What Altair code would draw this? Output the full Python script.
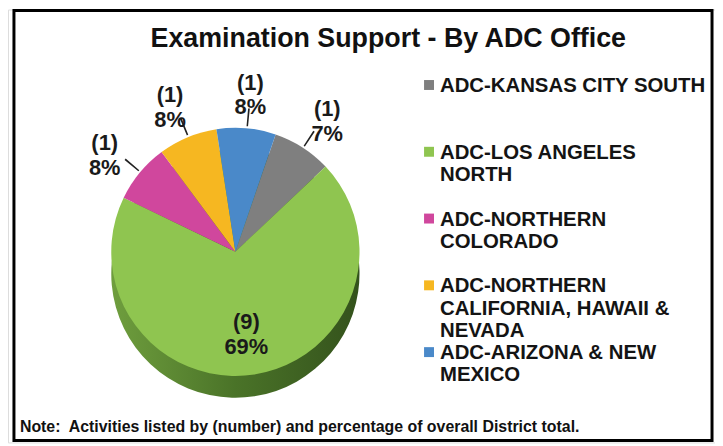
import math
import altair as alt
import pandas as pd

# ---- data ----
offices = [
    "ADC-KANSAS CITY SOUTH",
    "ADC-LOS ANGELES NORTH",
    "ADC-NORTHERN COLORADO",
    "ADC-NORTHERN CALIFORNIA, HAWAII & NEVADA",
    "ADC-ARIZONA & NEW MEXICO",
]
legend_text = [
    "ADC-KANSAS CITY SOUTH",
    "ADC-LOS ANGELES\nNORTH",
    "ADC-NORTHERN\nCOLORADO",
    "ADC-NORTHERN\nCALIFORNIA, HAWAII &\nNEVADA",
    "ADC-ARIZONA & NEW\nMEXICO",
]
counts = [1, 9, 1, 1, 1]
percent_labels = ["7%", "69%", "8%", "8%", "8%"]
colors = ["#7F7F7F", "#8FC550", "#D0479D", "#F6B721", "#4A89C9"]

title_text = "Examination Support - By ADC Office"
note_text = "Note:\u00a0 Activities listed by (number) and percentage of overall District total."

df = pd.DataFrame({
    "office": offices,
    "legend": legend_text,
    "count": counts,
    "pct": percent_labels,
    "order": list(range(len(offices))),
})
df["label"] = ["(" + str(c) + ")\n" + p for c, p in zip(counts, percent_labels)]

total = sum(counts)
start = 0.33
theta_scale = alt.Scale(domain=[0, total], range=[start, start + 2 * math.pi])
color_scale = alt.Scale(domain=offices, range=colors)

W, H = 712, 436
CX, CY, R, DEPTH = 229, 244, 125, 22
FONT = "Liberation Sans"

base = alt.Chart(df)

# side (depth) of the pie
side = base.mark_arc(
    radius=R,
    fill=alt.LinearGradient(
        gradient="linear",
        stops=[alt.GradientStop(color="#6F9E3E", offset=0),
               alt.GradientStop(color="#4A7328", offset=0.5),
               alt.GradientStop(color="#34521C", offset=1)],
        x1=0, x2=1, y1=0, y2=0,
    ),
).encode(
    theta=alt.Theta("count:Q", stack=True, scale=theta_scale),
    order=alt.Order("order:Q"),
    x=alt.value(CX), y=alt.value(CY + DEPTH),
)

# top face
pie = base.mark_arc(radius=R).encode(
    theta=alt.Theta("count:Q", stack=True, scale=theta_scale),
    order=alt.Order("order:Q"),
    color=alt.Color("office:N", scale=color_scale, legend=None),
    x=alt.value(CX), y=alt.value(CY),
)

mids = base.transform_window(
    cum="sum(count)", sort=[alt.SortField("order")]
).transform_calculate(
    mid="datum.cum - datum.count / 2",
    mid2="datum.cum - datum.count / 2 + 0.025",
)

leaders = mids.transform_filter("datum.count < 5").mark_arc(color="#222").encode(
    theta=alt.Theta("mid:Q", stack=False, scale=theta_scale),
    theta2="mid2:Q",
    radius=alt.value(145), radius2=alt.value(R + 2),
    x=alt.value(CX), y=alt.value(CY),
)

small_labels = mids.transform_filter("datum.count < 5").mark_text(
    font=FONT, fontSize=22, fontWeight="bold", lineBreak="\n", lineHeight=25,
    color="#1a1a1a", baseline="middle", align="center",
).encode(
    theta=alt.Theta("mid:Q", stack=False, scale=theta_scale),
    radius=alt.value(171),
    text="label:N",
    x=alt.value(CX), y=alt.value(CY),
)

big_labels = mids.transform_filter("datum.count >= 5").mark_text(
    font=FONT, fontSize=22, fontWeight="bold", lineBreak="\n", lineHeight=25,
    color="#1a1a1a", baseline="middle", align="center",
).encode(
    theta=alt.Theta("mid:Q", stack=False, scale=theta_scale),
    radius=alt.value(72),
    text="label:N",
    x=alt.value(CX), y=alt.value(CY),
)

legend_y = alt.Y("office:N", sort=offices, axis=None,
                 scale=alt.Scale(range=[76, 345], padding=0))

legend_sym = base.mark_square(size=100, opacity=1).encode(
    x=alt.value(424),
    y=legend_y,
    color=alt.Color("office:N", scale=color_scale, legend=None),
)

legend_lbl = base.mark_text(
    font=FONT, fontSize=20.5, fontWeight="bold", lineBreak="\n", lineHeight=22.5,
    color="#141414", align="left", baseline="alphabetic", dy=7,
).encode(
    x=alt.value(435),
    y=legend_y,
    text="legend:N",
)

frame = alt.Chart(pd.DataFrame({"f": [0]})).mark_rect(
    filled=False, stroke="black", strokeWidth=3
).encode(
    x=alt.value(6), x2=alt.value(709), y=alt.value(1), y2=alt.value(434),
)

note = alt.Chart(pd.DataFrame({"t": [note_text]})).mark_text(
    font=FONT, fontSize=16, fontWeight="bold", align="left", baseline="alphabetic",
    color="#111",
).encode(
    x=alt.value(12), y=alt.value(425), text="t:N",
)

chart = alt.layer(
    side, pie, leaders, small_labels, big_labels, legend_sym, legend_lbl, note, frame
).properties(
    width=W, height=H,
    title=alt.Title(title_text, anchor="middle", frame="group", offset=-44, dx=27,
                    font=FONT, fontSize=27, fontWeight="bold", color="#111"),
    autosize=alt.AutoSizeParams(type="none"),
    padding=0,
).configure_view(strokeWidth=0).configure(background="white")

chart.save("out.html", embed_options={"renderer": "svg", "actions": False})
